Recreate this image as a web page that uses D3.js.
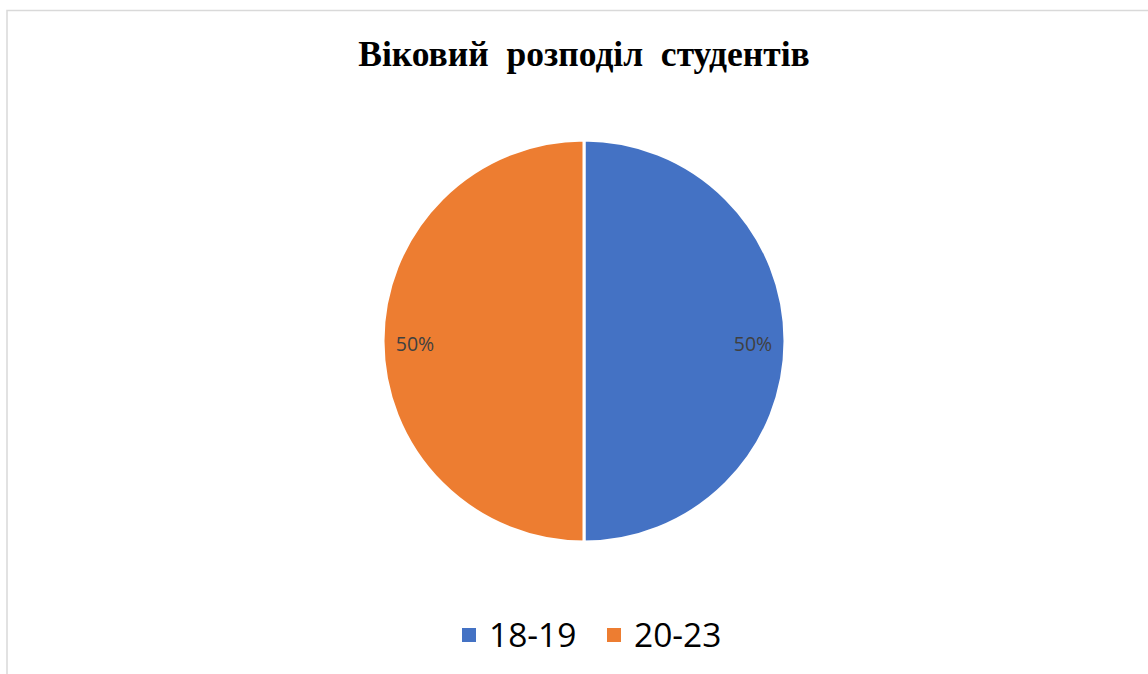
<!DOCTYPE html>
<html><head><meta charset="utf-8">
<script src="https://cdn.jsdelivr.net/npm/d3@7"></script>
<style>body{margin:0;background:#fff}svg{display:block}</style>
</head><body>
<svg id="c" width="1148" height="674"></svg>
<script>
const title = "Віковий  розподіл  студентів";
const categories = ["18-19", "20-23"];
const values = [50, 50];
const colors = ["#4472C4", "#ED7D31"];

const svg = d3.select("#c");
const W = 1148, H = 674;
svg.append("rect").attr("width", W).attr("height", H).attr("fill", "#fff");
// frame
svg.append("rect").attr("x", 7).attr("y", 10.5).attr("width", W + 20).attr("height", H + 20)
  .attr("fill", "none").attr("stroke", "#d9d9d9").attr("stroke-width", 1.5);

const t = svg.append("text").attr("x", 584).attr("y", 66).attr("text-anchor", "middle")
  .attr("font-family", "Liberation Serif, Times New Roman, serif").attr("font-weight", "bold")
  .attr("font-size", 35.5).attr("fill", "#000").style("white-space", "pre").text(title);

const cx = 584, cy = 341, r = 201;
const pie = d3.pie().sort(null).value(d => d)(values);
const arc = d3.arc().innerRadius(0).outerRadius(r);
const g = svg.append("g").attr("transform", `translate(${cx},${cy})`);
g.selectAll("path").data(pie).join("path").attr("d", arc)
  .attr("fill", (d, i) => colors[i]).attr("stroke", "#fff").attr("stroke-width", 3);

const total = d3.sum(values);
const fmt = d3.format(".0%");
const labelR = 169;
g.selectAll("text.lbl").data(pie).join("text").attr("class", "lbl")
  .attr("x", d => labelR * Math.sin((d.startAngle + d.endAngle) / 2))
  .attr("y", d => -labelR * Math.cos((d.startAngle + d.endAngle) / 2) + 3)
  .attr("dy", "0.35em").attr("text-anchor", "middle")
  .attr("font-family", "Open Sans, Carlito, sans-serif").attr("font-size", 19.5).attr("fill", "#404040")
  .text(d => fmt(d.value / total));

// legend
const legendX = [462, 607];
const lg = svg.append("g");
categories.forEach((c, i) => {
  lg.append("rect").attr("x", legendX[i]).attr("y", 628).attr("width", 14).attr("height", 14).attr("fill", colors[i]);
  lg.append("text").attr("x", legendX[i] + 27).attr("y", 647)
    .attr("font-family", "Open Sans, Carlito, sans-serif").attr("font-size", 33.5).attr("fill", "#000").text(c);
});
</script>
</body></html>
